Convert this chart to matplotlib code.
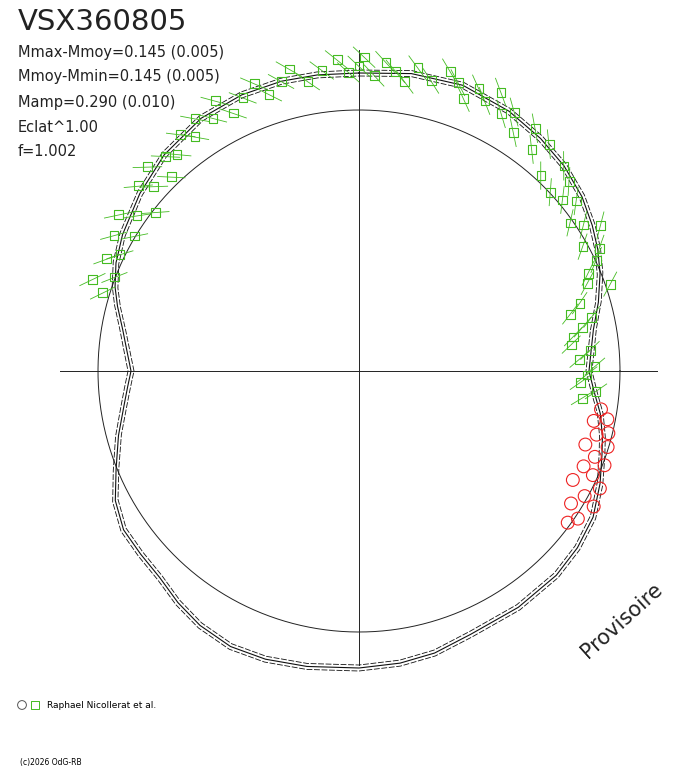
import numpy as np
import matplotlib
matplotlib.use("Agg")
import matplotlib.pyplot as plt

# light curve model: angle (deg, clockwise from top) -> radius (px units)
curve_ang = [0,10,20,30,38,45,52,58,63,68,74,80,85,90,95,100,105,109,115,122,129,136,146,157,165,172,180,190,198,205,212,218,224,230,236,242,248,255,262,266,270,275,280,285,289,294,300,309,318,328,337,345,352,360]
curve_r   = [298,302,304,300,295,290,283,275,268,260,249,238,233,230,236,245,252,257,266,276,281,284,285,286,292,295,297,300,303,304,300,294,287,285,284,276,262,249,237,232,228,233,240,250,258,266,273,282,291,298,300,300,299,298]
# green observations
g_ang = [287,289,291,294,296,299,301,303,305,308,310,312,314,316,318,320,323,325,327,330,332,334,337,340,342,345,347,350,353,356,358,0,1,3,5,7,9,11,14,17,19,21,23,25,27,29,31,33,36,38,40,43,45,47,48,50,52,55,57,59,61,63,65,67,69,71,73,75,77,79,81,83,85,87,89,91,93,95,97]
g_r   = [268,282,262,276,266,280,262,287,271,258,288,276,294,270,289,283,296,286,301,292,306,287,297,306,291,300,310,294,303,312,299,305,314,296,310,302,293,309,299,313,305,292,307,298,313,294,302,284,300,281,296,267,290,262,283,266,276,258,268,282,256,270,262,249,245,266,231,219,239,228,217,214,232,221,236,228,222,238,225]
# red observations
r_ang = [99,101,102,104,105,107,108,110,111,113,114,116,117,119,120,122,124,126]
r_r   = [245,253,240,257,246,260,238,251,263,244,256,268,240,258,271,250,264,258]
cx, cy, R0 = 359, 371, 261

def xy(a, r):
    a = np.radians(np.asarray(a, float)); r = np.asarray(r, float)
    return cx + r*np.sin(a), cy - r*np.cos(a)

fig = plt.figure(figsize=(6.88, 7.68), dpi=100)
ax = fig.add_axes([0, 0, 1, 1])
ax.set_xlim(0, 688); ax.set_ylim(768, 0); ax.axis('off')

t = np.linspace(0, 2*np.pi, 400)
ax.plot(cx + R0*np.cos(t), cy + R0*np.sin(t), color='#222222', lw=0.7)
ax.plot([60, 657], [cy, cy], color='#222222', lw=0.7)
ax.plot([cx, cx], [50, 665], color='#222222', lw=0.7)

x, y = xy(curve_ang, curve_r)
ax.plot(x, y, color='#111111', lw=0.8)
for d in (-3, 3):
    x, y = xy(curve_ang, np.array(curve_r) + d)
    ax.plot(x, y, color='#111111', lw=0.6, ls=(0, (7, 2)))

for a, r in zip(g_ang, g_r):
    x1, y1 = xy(a + 2, r - 10); x2, y2 = xy(a - 2, r + 10)
    ax.plot([x1, x2], [y1, y2], color='#44bb22', lw=0.6)
gx, gy = xy(g_ang, g_r)
ax.scatter(gx, gy, marker='s', s=40, facecolors='none', edgecolors='#44bb22', linewidths=0.8, zorder=3)
rx, ry = xy(r_ang, r_r)
ax.scatter(rx, ry, marker='o', s=85, facecolors='none', edgecolors='#ee2222', linewidths=0.8, zorder=3)

ax.text(18, 22, "VSX360805", fontsize=21, va='center', ha='left', color='#222222')
for i, s in enumerate(["Mmax-Mmoy=0.145 (0.005)", "Mmoy-Mmin=0.145 (0.005)",
                       "Mamp=0.290 (0.010)", "Eclat^1.00", "f=1.002"]):
    ax.text(18, 52 + i*25, s, fontsize=10.5, va='center', ha='left', color='#222222')
ax.text(622, 620, "Provisoire", fontsize=15, rotation=42, ha='center', va='center', color='#222222')
ax.scatter([22], [705], marker='o', s=40, facecolors='none', edgecolors='#555555', linewidths=0.7)
ax.scatter([35], [705], marker='s', s=30, facecolors='none', edgecolors='#44bb22', linewidths=0.7)
ax.text(47, 705, "Raphael Nicollerat et al.", fontsize=6.5, va='center')
ax.text(20, 762, "(c)2026 OdG-RB", fontsize=5.5, va='center')
fig.savefig("out.png", dpi=100)
